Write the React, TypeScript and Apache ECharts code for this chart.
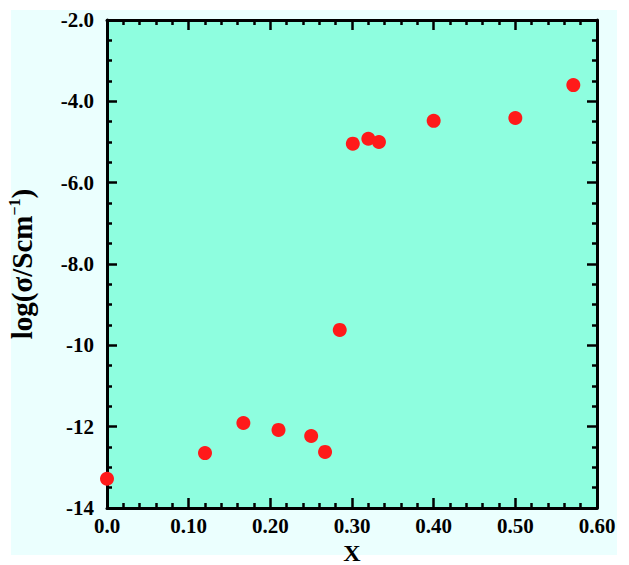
import React, { useEffect, useRef } from "react";
import * as echarts from "echarts";

const xValues = [0.0, 0.12, 0.167, 0.21, 0.25, 0.267, 0.285, 0.301, 0.32, 0.333, 0.4, 0.5, 0.571];
const yValues = [-13.28, -12.65, -11.91, -12.08, -12.23, -12.62, -9.62, -5.04, -4.92, -5.0, -4.48, -4.41, -3.6];

const xMin = 0;
const xMax = 0.6;
const xStep = 0.1;
const yMin = -14;
const yMax = -2;
const yStep = 2;

const FONT = '"Liberation Serif", "Times New Roman", Times, serif';

export default function App() {
  const ref = useRef<HTMLDivElement>(null);
  useEffect(() => {
    if (!ref.current) return;
    const chart = echarts.init(ref.current, null, { renderer: "svg" });
    const points = xValues.map((x, i) => [x, yValues[i]]);
    const axisLine = { show: true, onZero: false, lineStyle: { color: "#000", width: 3 } };
    const xTick = { show: true, inside: true, length: 10, lineStyle: { color: "#000", width: 2.5 } };
    const xMinor = { show: true, splitNumber: 5, length: 5, lineStyle: { color: "#000", width: 2.5 } };
    const yMinor = { show: true, splitNumber: 4, length: 5, lineStyle: { color: "#000", width: 2.5 } };
    const labelStyle = { fontFamily: FONT, fontWeight: "bold", fontSize: 21, color: "#000" };
    chart.setOption({
      animation: false,
      backgroundColor: "#ffffff",
      graphic: [
        {
          type: "rect",
          z: -10,
          silent: true,
          shape: { x: 11, y: 10, width: 606, height: 545 },
          style: { fill: "#ebfffe" },
        },
      ],
      grid: {
        left: 107,
        top: 20,
        right: 32,
        bottom: 57,
        containLabel: false,
        outerBoundsMode: "none",
        show: true,
        backgroundColor: "#8efedf",
        borderWidth: 0,
      },
      xAxis: [
        {
          type: "value",
          position: "bottom",
          min: xMin,
          max: xMax,
          interval: xStep,
          axisLine,
          axisTick: xTick,
          minorTick: xMinor,
          splitLine: { show: false },
          axisLabel: {
            ...labelStyle,
            margin: 7,
            formatter: (v: number) => (v === 0 ? "0.0" : v.toFixed(2)),
          },
          name: "X",
          nameLocation: "middle",
          nameGap: 32,
          nameTextStyle: { fontFamily: FONT, fontWeight: "bold", fontSize: 24, lineHeight: 24, color: "#000" },
        },
        {
          type: "value",
          position: "top",
          min: xMin,
          max: xMax,
          interval: xStep,
          axisLine,
          axisTick: xTick,
          minorTick: xMinor,
          splitLine: { show: false },
          axisLabel: { show: false },
        },
      ],
      yAxis: [
        {
          type: "value",
          position: "left",
          min: yMin,
          max: yMax,
          interval: yStep,
          axisLine,
          axisTick: xTick,
          minorTick: yMinor,
          splitLine: { show: false },
          axisLabel: {
            ...labelStyle,
            margin: 13,
            formatter: (v: number) => (Math.abs(v) < 10 ? v.toFixed(1) : v.toFixed(0)),
          },
          name: "{a|log(σ/Scm}{b|−1}{a|)}",
          nameLocation: "middle",
          nameGap: 70,
          nameTextStyle: {
            rich: {
              a: { fontFamily: FONT, fontWeight: "bold", fontSize: 29, color: "#000", lineHeight: 31 },
              b: { fontFamily: FONT, fontWeight: "bold", fontSize: 16, color: "#000", verticalAlign: "top", lineHeight: 31 },
            },
          },
        },
        {
          type: "value",
          position: "right",
          min: yMin,
          max: yMax,
          interval: yStep,
          axisLine,
          axisTick: xTick,
          minorTick: yMinor,
          splitLine: { show: false },
          axisLabel: { show: false },
        },
      ],
      series: [
        {
          type: "scatter",
          xAxisIndex: 0,
          yAxisIndex: 0,
          data: points,
          symbol: "circle",
          symbolSize: 14,
          itemStyle: { color: "#ff1a1a", opacity: 1 },
        },
      ],
    });
    return () => chart.dispose();
  }, []);
  return (
    <div
      ref={ref}
      style={{ position: "fixed", left: 0, top: 0, width: 629, height: 565 }}
    />
  );
}
